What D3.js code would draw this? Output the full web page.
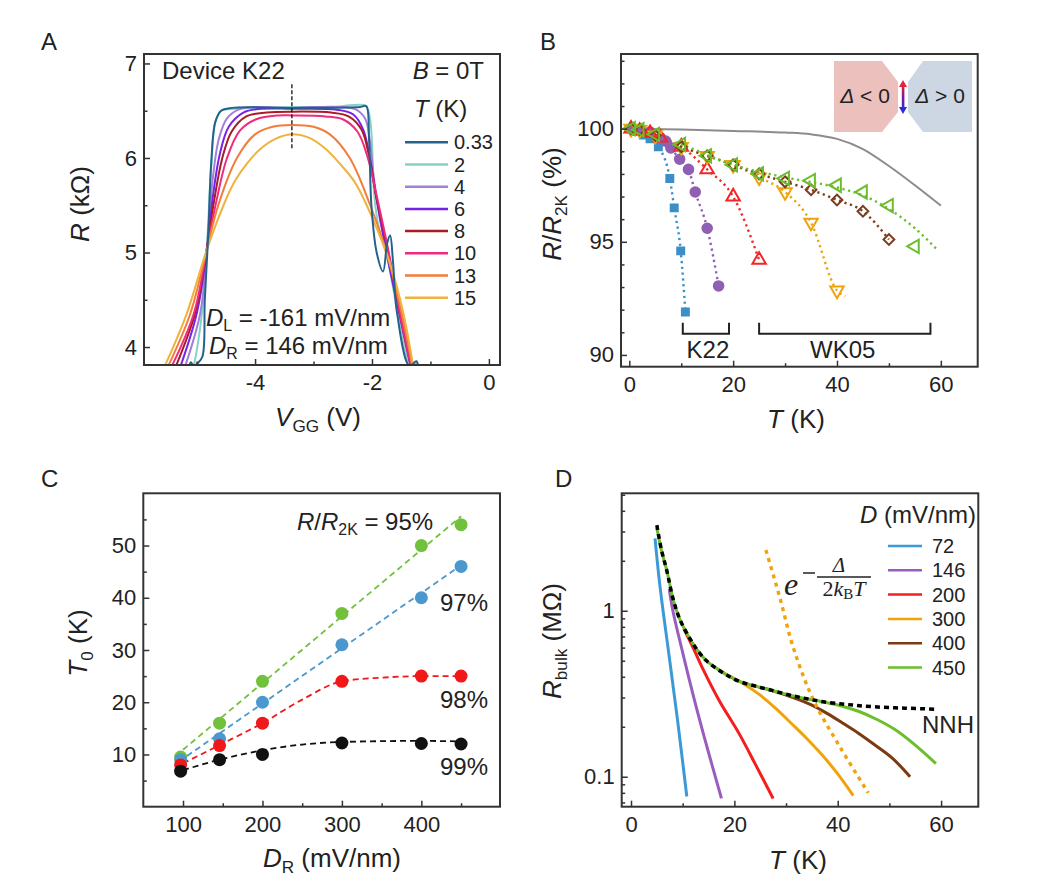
<!DOCTYPE html>
<html><head><meta charset="utf-8">
<script src="https://cdn.jsdelivr.net/npm/d3@7"></script>
<style>
body{margin:0;background:#fff;}
</style></head><body>
<svg id="fig" width="1039" height="891"></svg>
<script>
// ================= DATA =================
// Panel A: R (kOhm) vs V_GG (V) for several temperatures
const aTemps = ["0.33", "2", "4", "6", "8", "10", "13", "15"];
const aCurve033 = [[-5.16,3.7],[-5.1,3.84],[-5.05,3.8],[-4.98,3.83],[-4.9,3.9],[-4.86,4.5],[-4.8,5.2],[-4.75,5.95],[-4.68,6.38],[-4.58,6.5],[-4.4,6.53],[-3.37,6.53],[-2.2,6.54],[-2.1,6.55],[-2.05,6.2],[-2.01,5.5],[-1.92,5.0],[-1.81,4.8],[-1.74,5.1],[-1.69,5.18],[-1.64,4.9],[-1.58,4.4],[-1.36,3.8],[-1.24,3.85],[-1.2,3.7]];
const aCurve2 = [[-5.1,3.7],[-5.05,3.8],[-4.91,4.35],[-4.83,5.0],[-4.75,5.9],[-4.68,6.38],[-4.58,6.5],[-4.3,6.52],[-3.37,6.54],[-2.7,6.54],[-2.3,6.56],[-2.1,6.55],[-2.03,6.4],[-1.96,5.6],[-1.88,5.25],[-1.76,5.0],[-1.55,4.35],[-1.33,3.8],[-1.24,3.83],[-1.2,3.7]];
const aCurve4 = [[-5.25,3.7],[-4.94,4.35],[-4.83,5.0],[-4.72,5.8],[-4.62,6.2],[-4.48,6.42],[-4.25,6.52],[-3.37,6.53],[-2.3,6.52],[-2.12,6.42],[-2.04,6.2],[-1.97,5.8],[-1.89,5.45],[-1.75,5.0],[-1.53,4.35],[-1.31,3.7]];
const aCurve6 = [[-5.33,3.7],[-5.0,4.35],[-4.83,5.0],[-4.72,5.6],[-4.6,6.05],[-4.45,6.33],[-4.2,6.48],[-3.9,6.52],[-3.37,6.52],[-2.6,6.51],[-2.32,6.46],[-2.15,6.3],[-2.03,5.98],[-1.93,5.6],[-1.75,5.0],[-1.53,4.35],[-1.3,3.7]];
const aCurve8 = [[-5.42,3.7],[-5.03,4.35],[-4.83,5.02],[-4.7,5.55],[-4.56,6.0],[-4.4,6.28],[-4.15,6.44],[-3.8,6.48],[-3.37,6.49],[-2.7,6.48],[-2.4,6.44],[-2.18,6.3],[-2.05,6.02],[-1.93,5.6],[-1.72,5.0],[-1.52,4.35],[-1.3,3.7]];
const aCurve10 = [[-5.5,3.7],[-5.05,4.35],[-4.83,5.02],[-4.67,5.52],[-4.48,6.0],[-4.26,6.29],[-3.98,6.41],[-3.6,6.45],[-3.37,6.45],[-2.8,6.44],[-2.5,6.41],[-2.25,6.28],[-2.08,6.02],[-1.92,5.6],[-1.72,5.02],[-1.52,4.35],[-1.3,3.7]];
const aCurve13 = [[-5.56,3.7],[-5.11,4.35],[-4.83,5.02],[-4.63,5.5],[-4.31,6.0],[-4.0,6.25],[-3.7,6.33],[-3.37,6.35],[-3.0,6.33],[-2.72,6.25],[-2.38,6.0],[-2.03,5.5],[-1.75,5.0],[-1.49,4.35],[-1.28,3.7]];
const aCurve15 = [[-5.62,3.7],[-5.4,4.0],[-5.17,4.35],[-4.83,5.02],[-4.54,5.5],[-4.35,5.75],[-4.14,5.94],[-3.9,6.1],[-3.66,6.2],[-3.37,6.25],[-3.1,6.22],[-2.8,6.1],[-2.55,5.94],[-2.3,5.75],[-2.09,5.5],[-1.69,4.88],[-1.46,4.35],[-1.27,3.7]];
const aMarkerV = -3.37, aMarkerR = [6.1, 6.78];
const aXTicks = [-4, -2, 0], aXMinor = [-5, -3, -1];
const aYTicks = [4, 5, 6, 7], aYMinor = [4.5, 5.5, 6.5];

// Panel B: R/R2K (%) vs T (K)
const bBlue = [[0.33,100],[1.5,99.9],[2.7,99.72],[4,99.55],[5.6,99.2],[7.8,97.8],[8.65,96.5],[9.9,94.6],[10.8,91.9]];
const bPurple = [[0.33,100],[2,99.95],[4,99.85],[6,99.6],[7,99.45],[8,99.15],[9.7,98.65],[11.4,98.2],[12.7,97.2],[15,95.6],[17.2,93.05]];
const bRed = [[0.33,100],[2,99.9],[4,99.8],[6,99.6],[10,99.2],[15,98.2],[20,97.0],[25,94.2]];
const bOrange = [[0.33,100],[2,99.95],[5,99.7],[10,99.2],[15,98.8],[20,98.4],[25,97.85],[30,97.2],[35,95.85],[40,92.85]];
const bOrangeFit = [[0.33,100],[5,99.7],[10,99.2],[15,98.8],[20,98.4],[25,97.85],[30,97.2],[35,95.85],[40,92.85],[41.6,92.6]];
const bBrown = [[0.33,100],[2,99.95],[5,99.7],[10,99.2],[15,98.8],[20,98.4],[25,98.0],[30,97.65],[35,97.3],[40,96.85],[45,96.35],[50,95.1]];
const bGreen = [[0.33,100],[2,99.95],[5,99.75],[10,99.3],[15,98.8],[20,98.4],[25,98.0],[30,97.8],[35,97.7],[40,97.5],[45,97.2],[50,96.6],[55,94.8]];
const bGreenFit = [[0.33,100],[10,99.3],[20,98.4],[30,97.85],[40,97.4],[45,97.05],[50,96.45],[55,95.6],[59.5,94.6]];
const bGray = [[0,100],[10,99.96],[20,99.9],[30,99.83],[35,99.75],[40,99.55],[45,99.1],[50,98.35],[55,97.5],[60,96.6]];
const bK22Range = [10.3, 19.2], bWK05Range = [25, 58], bBracketR = [91.42, 90.94];
const bXTicks = [0, 20, 40, 60], bXMinor = [10, 30, 50];
const bYTicks = [90, 95, 100], bYMinor = [91,92,93,94,96,97,98,99,101,102,103];

// Panel C: T0 (K) vs D_R (mV/nm)
const cD = [97, 146, 200, 300, 400, 450];
const c95 = [9.5, 16, 24, 37, 50, 54];
const c97 = [9, 13, 20, 31, 40, 46];
const c98 = [8, 11.7, 16, 24, 25, 25];
const c99 = [6.8, 9, 10, 12.2, 12.1, 12];
const c95Fit = [[100,10.9],[450,55.6]];
const c97Fit = [[105,9.7],[448,46]];
const c98Fit = [[100,8.3],[146,11.8],[200,16],[250,20.5],[300,24],[350,24.7],[400,25],[450,25]];
const c99Fit = [[100,7],[146,9],[200,10.8],[250,11.9],[300,12.4],[400,12.6],[450,12.5]];
const cLabels = ["95%", "97%", "98%", "99%"];
const cXTicks = [100, 200, 300, 400], cXMinor = [150, 250, 350, 450];
const cYTicks = [10, 20, 30, 40, 50], cYMinor = [5, 15, 25, 35, 45, 55];

// Panel D: R_bulk (MOhm) vs T (K), log scale
const dD = ["72", "146", "200", "300", "400", "450"];
const dCurve72 = [[4.65,2.73],[5.4,1.6],[6.2,1.0],[7.5,0.5],[9,0.22],[10.8,0.076]];
const dCurve146 = [[7.4,1.35],[8.1,1.0],[10,0.56],[12.4,0.28],[15,0.14],[17.5,0.074]];
const dCurve200 = [[10.2,0.78],[12,0.6],[14,0.44],[17,0.29],[21,0.18],[24,0.12],[27.5,0.074]];
const dCurve300 = [[16.5,0.45],[19,0.405],[22,0.36],[25,0.31],[28,0.258],[31,0.21],[34,0.17],[37,0.135],[40,0.104],[43,0.077]];
const dCurve400 = [[26,0.34],[29,0.318],[32,0.295],[35,0.27],[38,0.24],[41,0.21],[44,0.183],[47,0.157],[50.5,0.13],[54,0.10]];
const dCurve450 = [[5,3.15],[5.9,2.3],[6.9,1.76],[8.2,1.16],[9.5,0.88],[11.4,0.68],[13,0.57],[14.6,0.5],[16.5,0.45],[18.5,0.41],[21,0.375],[24.3,0.35],[27.5,0.33],[30.8,0.31],[34,0.295],[37,0.283],[40.5,0.268],[44,0.248],[47.5,0.222],[51,0.193],[55,0.155],[59,0.12]];
const dNNH = [[5,3.28],[5.9,2.32],[6.9,1.76],[8.2,1.16],[9.5,0.88],[11.4,0.68],[13,0.57],[14.6,0.5],[16.5,0.45],[18.5,0.41],[21,0.375],[24.3,0.35],[27.5,0.33],[30.8,0.31],[34,0.295],[37.2,0.283],[42,0.272],[46.9,0.264],[53,0.259],[59.2,0.255]];
const dGap = [[26.1,2.32],[28.8,1.2],[31.4,0.6],[35.3,0.29],[40.5,0.15],[45.9,0.08]];
const dXTicks = [0, 20, 40, 60], dXMinor = [10, 30, 50];
const dYTicks = [0.1, 1], dYMinor = [0.07,0.08,0.09,0.2,0.3,0.4,0.5,0.6,0.7,0.8,0.9,2,3,4,5];

// ================= STYLES =================
const FONT = "'Liberation Sans', Arial, Helvetica, sans-serif";
const SERIF = "'Liberation Serif', 'DejaVu Serif', serif";
const aColors = ["#23628c","#86d2c8","#a27fd8","#7722e6","#a81c26","#ee2b7d","#f47c3a","#efb33d"];
const bColors = {blue:"#3b8fc6", purple:"#8f5fb3", red:"#f52525", orange:"#eea20e", brown:"#7b3d1b", green:"#6cbd2c"};
const cColors = ["#72c13c", "#4a98cd", "#f01818", "#111111"];
const dColors = ["#3b9ad6", "#9b5cc0", "#f41e1e", "#f0a30a", "#7b3a12", "#6cbf2c"];
const ANN = 24, TITLE = 26;

const svg = d3.select("#fig");

function txt(g, x, y, parts, size, anchor, rotate, family) {
  const t = g.append("text").attr("font-size", size).attr("font-family", family || FONT)
    .attr("fill", "#222").attr("text-anchor", anchor || "start");
  if (rotate) t.attr("transform", `translate(${x},${y}) rotate(-90)`); else t.attr("x", x).attr("y", y);
  let shift = 0;
  (typeof parts === "string" ? [{t: parts}] : parts).forEach(p => {
    const s = p.sub ? size * 0.66 : size;
    const target = p.sub ? size * 0.22 : 0;
    const ts = t.append("tspan").text(p.t).attr("font-size", s);
    if (target !== shift) { ts.attr("dy", target - shift); shift = target; }
    if (p.i) ts.attr("font-style", "italic");
  });
  return t;
}

function axes(g, x, y, cfg) {
  const [x0, x1] = x.range();
  const [yb, yt] = y.range();
  const ax = (gen, vals, size, fmt, tr, pad) => {
    const a = g.append("g").attr("transform", tr)
      .call(gen.tickValues(vals).tickSize(size).tickPadding(pad).tickFormat(fmt));
    a.select(".domain").remove();
    a.selectAll("line").attr("stroke", "#333").attr("stroke-width", 1.5);
    a.selectAll("text").attr("font-size", 22).attr("font-family", FONT).attr("fill", "#222");
    return a;
  };
  ax(d3.axisBottom(x), cfg.xMajor, -6, d => d, `translate(0,${yb})`, 9.5);
  ax(d3.axisBottom(x), cfg.xMinor, -3.5, () => "", `translate(0,${yb})`, 9.5);
  ax(d3.axisLeft(y), cfg.yMajor, -6, d => d, `translate(${x0},0)`, 7);
  ax(d3.axisLeft(y), cfg.yMinor, -3.5, () => "", `translate(${x0},0)`, 7);
  g.append("rect").attr("x", x0).attr("y", yt).attr("width", x1 - x0).attr("height", yb - yt)
    .attr("fill", "none").attr("stroke", "#333").attr("stroke-width", 2);
}

function clip(id, x, y) {
  const [x0, x1] = x.range(); const [yb, yt] = y.range();
  svg.append("clipPath").attr("id", id).append("rect")
    .attr("x", x0).attr("y", yt).attr("width", x1 - x0).attr("height", yb - yt);
  return `url(#${id})`;
}

// ================= PANEL A =================
{
  const g = svg.append("g");
  const x = d3.scaleLinear().domain([-5.9, 0.19]).range([144, 500]);
  const y = d3.scaleLinear().domain([3.81, 7.1]).range([365, 54]);
  const cp = clip("clipA", x, y);
  const line = d3.line().x(d => x(d[0])).y(d => y(d[1])).curve(d3.curveCatmullRom.alpha(0.5));
  const curves = [aCurve033, aCurve2, aCurve4, aCurve6, aCurve8, aCurve10, aCurve13, aCurve15];
  const pg = g.append("g").attr("clip-path", cp);
  [1, 2, 3, 4, 5, 6, 7, 0].forEach(i => {
    pg.append("path").attr("d", line(curves[i])).attr("fill", "none")
      .attr("stroke", aColors[i]).attr("stroke-width", 2);
  });
  g.append("line").attr("x1", x(aMarkerV)).attr("x2", x(aMarkerV))
    .attr("y1", y(aMarkerR[1])).attr("y2", y(aMarkerR[0]))
    .attr("stroke", "#111").attr("stroke-width", 1.3).attr("stroke-dasharray", "4,2");
  axes(g, x, y, {xMajor: aXTicks, xMinor: aXMinor, yMajor: aYTicks, yMinor: aYMinor});
  aTemps.forEach((t, i) => {
    const yy = 142.3 + i * 22.2;
    g.append("line").attr("x1", 405).attr("x2", 448).attr("y1", yy).attr("y2", yy)
      .attr("stroke", aColors[i]).attr("stroke-width", 2.5);
    txt(g, 454, yy + 7, t, 20);
  });
  txt(g, 414, 117, [{t: "T", i: 1}, {t: " (K)"}], ANN);
  txt(g, 162, 79, "Device K22", ANN);
  txt(g, 484, 79, [{t: "B", i: 1}, {t: " = 0T"}], ANN, "end");
  txt(g, 206, 326, [{t: "D", i: 1}, {t: "L", sub: 1}, {t: " = -161 mV/nm"}], ANN);
  txt(g, 209, 354, [{t: "D", i: 1}, {t: "R", sub: 1}, {t: " = 146 mV/nm"}], ANN);
  txt(g, 89, 204, [{t: "R", i: 1}, {t: " (kΩ)"}], TITLE, "middle", true);
  txt(g, 318, 426, [{t: "V", i: 1}, {t: "GG", sub: 1}, {t: " (V)"}], TITLE, "middle");
  txt(g, 41, 50, "A", 24);
}

// ================= PANEL B =================
{
  const g = svg.append("g");
  const x = d3.scaleLinear().domain([-1.6, 67.1]).range([621, 977.7]);
  const y = d3.scaleLinear().domain([89.48, 103.3]).range([366.7, 54]);
  const cp = clip("clipB", x, y);
  const pg = g.append("g").attr("clip-path", cp);
  const smooth = d3.line().x(d => x(d[0])).y(d => y(d[1])).curve(d3.curveMonotoneX);
  pg.append("path").attr("d", smooth(bGray)).attr("fill", "none").attr("stroke", "#8c8c8c").attr("stroke-width", 2);
  const fits = [[bBlue, bColors.blue], [bPurple, bColors.purple], [bRed, bColors.red],
                [bOrangeFit, bColors.orange], [bBrown, bColors.brown], [bGreenFit, bColors.green]];
  fits.forEach(([d, c]) => pg.append("path").attr("d", smooth(d)).attr("fill", "none")
    .attr("stroke", c).attr("stroke-width", 2.4).attr("stroke-dasharray", "2.2,3.6"));
  const sym = (type, size) => d3.symbol().type(type).size(size)();
  const series = [
    {d: bBlue, c: bColors.blue, p: sym(d3.symbolSquare, 80), fill: true, rot: 0},
    {d: bPurple, c: bColors.purple, p: sym(d3.symbolCircle, 105), fill: true, rot: 0},
    {d: bRed, c: bColors.red, p: sym(d3.symbolTriangle, 78), fill: false, rot: 0},
    {d: bOrange, c: bColors.orange, p: sym(d3.symbolTriangle, 78), fill: false, rot: 180},
    {d: bBrown, c: bColors.brown, p: sym(d3.symbolSquare, 58), fill: false, rot: 45},
    {d: bGreen, c: bColors.green, p: sym(d3.symbolTriangle, 78), fill: false, rot: -90}
  ];
  series.forEach(s => {
    pg.selectAll(null).data(s.d).enter().append("path").attr("d", s.p)
      .attr("transform", d => `translate(${x(d[0])},${y(d[1])}) rotate(${s.rot})`)
      .attr("fill", s.fill ? s.c : "none").attr("stroke", s.fill ? "none" : s.c)
      .attr("stroke-width", 2);
  });
  [bK22Range, bWK05Range].forEach(r => {
    g.append("path").attr("d",
      `M${x(r[0])},${y(bBracketR[0])}V${y(bBracketR[1])}H${x(r[1])}V${y(bBracketR[0])}`)
      .attr("fill", "none").attr("stroke", "#222").attr("stroke-width", 2);
  });
  txt(g, x(d3.mean(bK22Range)) + 2, 358, "K22", ANN, "middle");
  txt(g, x(d3.mean(bWK05Range)) - 2, 358, "WK05", ANN, "middle");
  const ins = g.append("g");
  ins.append("polygon").attr("points", "834,61 882,61 898,82 898,112 882,132 834,132").attr("fill", "#ecc1bd");
  ins.append("polygon").attr("points", "908,82 923,61 972,61 972,132 923,132 908,112").attr("fill", "#cdd7e3");
  const defs = svg.append("defs");
  const gr = defs.append("linearGradient").attr("id", "arrG").attr("x1", 0).attr("x2", 0).attr("y1", 0).attr("y2", 1);
  gr.append("stop").attr("offset", "0%").attr("stop-color", "#e8203a");
  gr.append("stop").attr("offset", "50%").attr("stop-color", "#7a1a9a");
  gr.append("stop").attr("offset", "100%").attr("stop-color", "#2a2ae0");
  ins.append("rect").attr("x", 901.8).attr("y", 84).attr("width", 2.6).attr("height", 26).attr("fill", "url(#arrG)");
  ins.append("polygon").attr("points", "903,80 899,87 907,87").attr("fill", "#e8203a");
  ins.append("polygon").attr("points", "903,114 899,107 907,107").attr("fill", "#2a2ae0");
  txt(ins, 865, 103, [{t: "Δ", i: 1}, {t: " < 0"}], 21, "middle");
  txt(ins, 940, 103, [{t: "Δ", i: 1}, {t: " > 0"}], 21, "middle");
  axes(g, x, y, {xMajor: bXTicks, xMinor: bXMinor, yMajor: bYTicks, yMinor: bYMinor});
  txt(g, 561, 204, [{t: "R", i: 1}, {t: "/"}, {t: "R", i: 1}, {t: "2K", sub: 1}, {t: " (%)"}], TITLE, "middle", true);
  txt(g, 796, 428, [{t: "T", i: 1}, {t: " (K)"}], TITLE, "middle");
  txt(g, 540, 50, "B", 24);
}

// ================= PANEL C =================
{
  const g = svg.append("g");
  const x = d3.scaleLinear().domain([50, 499]).range([143.3, 500]);
  const y = d3.scaleLinear().domain([0, 60]).range([806.7, 493.3]);
  const smooth = d3.line().x(d => x(d[0])).y(d => y(d[1])).curve(d3.curveMonotoneX);
  const fits = [c95Fit, c97Fit, c98Fit, c99Fit];
  const vals = [c95, c97, c98, c99];
  fits.forEach((f, i) => g.append("path").attr("d", smooth(f)).attr("fill", "none")
    .attr("stroke", cColors[i]).attr("stroke-width", 1.8).attr("stroke-dasharray", "6,4"));
  vals.forEach((v, i) => {
    g.selectAll(null).data(v).enter().append("circle")
      .attr("cx", (d, j) => x(cD[j])).attr("cy", d => y(d)).attr("r", 6.5).attr("fill", cColors[i]);
  });
  axes(g, x, y, {xMajor: cXTicks, xMinor: cXMinor, yMajor: cYTicks, yMinor: cYMinor});
  txt(g, 297, 530, [{t: "R", i: 1}, {t: "/"}, {t: "R", i: 1}, {t: "2K", sub: 1}, {t: " = " + cLabels[0]}], ANN);
  txt(g, 440, 611, cLabels[1], ANN);
  txt(g, 440, 708, cLabels[2], ANN);
  txt(g, 440, 775, cLabels[3], ANN);
  txt(g, 87, 643, [{t: "T", i: 1}, {t: "0", sub: 1}, {t: " (K)"}], TITLE, "middle", true);
  txt(g, 332, 867, [{t: "D", i: 1}, {t: "R", sub: 1}, {t: " (mV/nm)"}], TITLE, "middle");
  txt(g, 41, 487, "C", 24);
}

// ================= PANEL D =================
{
  const g = svg.append("g");
  const x = d3.scaleLinear().domain([-1.8, 67.2]).range([621.7, 978.3]);
  const y = d3.scaleLog().domain([0.066, 5.1]).range([806.7, 493.3]);
  const cp = clip("clipD", x, y);
  const pg = g.append("g").attr("clip-path", cp);
  const smooth = d3.line().x(d => x(d[0])).y(d => y(d[1])).curve(d3.curveCatmullRom.alpha(0.5));
  const curves = [dCurve72, dCurve146, dCurve200, dCurve300, dCurve400, dCurve450];
  [0, 1, 2, 3, 4, 5].forEach(i => pg.append("path").attr("d", smooth(curves[i])).attr("fill", "none")
    .attr("stroke", dColors[i]).attr("stroke-width", 3));
  pg.append("path").attr("d", smooth(dGap)).attr("fill", "none").attr("stroke", dColors[3])
    .attr("stroke-width", 3.4).attr("stroke-dasharray", "4,4.5");
  pg.append("path").attr("d", smooth(dNNH)).attr("fill", "none").attr("stroke", "#000")
    .attr("stroke-width", 3.5).attr("stroke-dasharray", "5,4");
  axes(g, x, y, {xMajor: dXTicks, xMinor: dXMinor, yMajor: dYTicks, yMinor: dYMinor});
  txt(g, 860, 523, [{t: "D", i: 1}, {t: " (mV/nm)"}], ANN);
  dD.forEach((t, i) => {
    const yy = 546 + i * 24.3;
    g.append("line").attr("x1", 888).attr("x2", 922).attr("y1", yy).attr("y2", yy)
      .attr("stroke", dColors[i]).attr("stroke-width", 2.5);
    txt(g, 932, yy + 7, t, 20);
  });
  // formula e^{-Δ/(2 k_B T)}
  txt(g, 784, 595, [{t: "e", i: 1}], 32, "start", false, SERIF);
  g.append("line").attr("x1", 803).attr("x2", 815).attr("y1", 573).attr("y2", 573).attr("stroke", "#222").attr("stroke-width", 1.5);
  g.append("line").attr("x1", 817).attr("x2", 871).attr("y1", 577).attr("y2", 577).attr("stroke", "#222").attr("stroke-width", 1.5);
  txt(g, 839, 572, [{t: "Δ", i: 1}], 21, "middle", false, SERIF);
  const den = g.append("text").attr("x", 844).attr("y", 596).attr("text-anchor", "middle")
    .attr("font-family", SERIF).attr("font-size", 22).attr("fill", "#222");
  den.append("tspan").text("2");
  den.append("tspan").text("k").attr("font-style", "italic");
  den.append("tspan").text("B").attr("font-size", 15).attr("dy", 3);
  den.append("tspan").text("T").attr("font-style", "italic").attr("dy", -3);
  txt(g, 922, 733, "NNH", ANN);
  txt(g, 561, 641, [{t: "R", i: 1}, {t: "bulk", sub: 1}, {t: " (MΩ)"}], TITLE, "middle", true);
  txt(g, 798, 869, [{t: "T", i: 1}, {t: " (K)"}], TITLE, "middle");
  txt(g, 555, 487, "D", 24);
}
</script>
</body></html>
